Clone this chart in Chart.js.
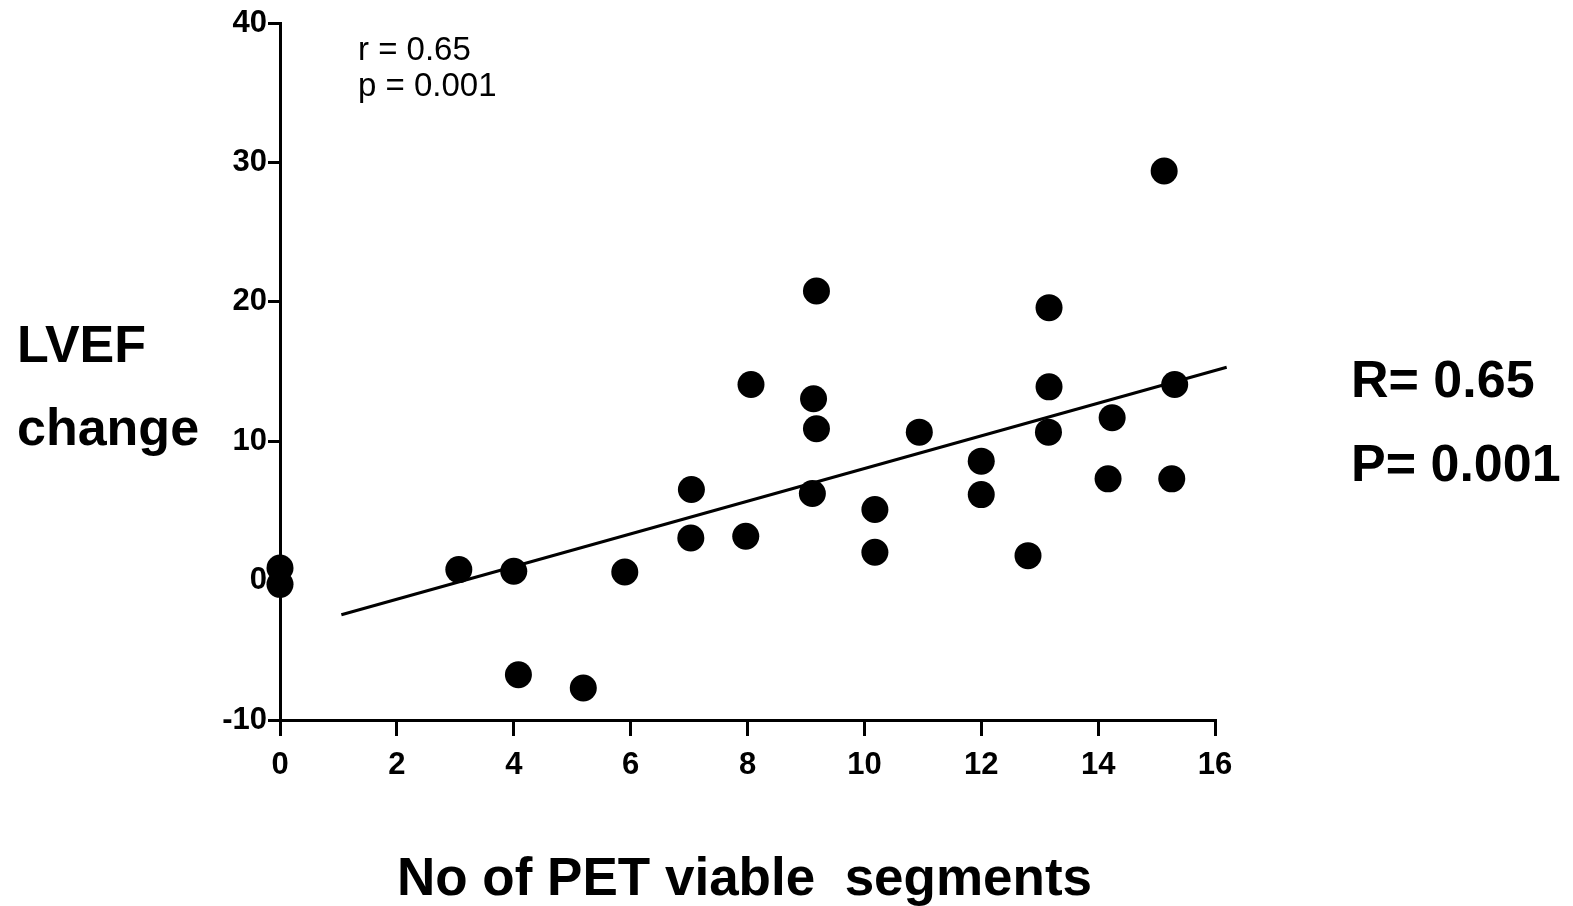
<!DOCTYPE html>
<html>
<head>
<meta charset="utf-8">
<script src="https://cdn.jsdelivr.net/npm/chart.js@4.4.1/dist/chart.umd.min.js"></script>
<style>
  html, body { margin: 0; padding: 0; background: #fff; }
  #wrap { width: 1573px; height: 906px; position: relative; }
</style>
</head>
<body>
<div id="wrap"><canvas id="c"></canvas></div>
<script>
// Number of PET viable segments (x) and LVEF change (y) for each patient
const viableSegments = [0, 0, 3.06, 4.0, 4.08, 5.19, 5.9, 7.04, 7.03, 7.97, 8.06, 9.18, 9.13, 9.18, 9.11, 10.18, 10.18, 10.94, 12.0, 12.0, 12.8, 13.16, 13.16, 13.15, 14.24, 14.17, 15.13, 15.31, 15.26];
const lvefChange     = [0.9, -0.27, 0.79, 0.67, -6.75, -7.7, 0.62, 6.53, 3.06, 3.18, 14.07, 20.77, 13.04, 10.89, 6.25, 5.1, 2.03, 10.65, 8.57, 6.17, 1.79, 19.58, 13.9, 10.65, 11.68, 7.3, 29.38, 14.07, 7.3];
// Regression line end points
const fitX = [1.05, 16.2];
const fitY = [-2.45, 15.3];
// Axis ranges / tick steps
const xRange = [0, 16];
const yRange = [-10, 40];
const xStep = 2;
const yStep = 10;
// Texts
const statsSmall = ["r = 0.65", "p = 0.001"];
const statsBig = ["R= 0.65", "P= 0.001"];
const yTitle = ["LVEF", "change"];
const xTitle = "No of PET viable  segments";

const pts = viableSegments.map((x, i) => ({ x: x, y: lvefChange[i] }));
const fit = fitX.map((x, i) => ({ x: x, y: fitY[i] }));

const textPlugin = {
  id: 'texts',
  afterDraw(chart) {
    const ctx = chart.ctx;
    ctx.save();
    ctx.fillStyle = '#000';
    ctx.textAlign = 'left';
    ctx.textBaseline = 'alphabetic';
    ctx.font = '33px "Liberation Sans", Arial, sans-serif';
    ctx.fillText(statsSmall[0], 358, 60);
    ctx.fillText(statsSmall[1], 358, 96);
    ctx.font = 'bold 52px "Liberation Sans", Arial, sans-serif';
    ctx.fillText(yTitle[0], 17, 362);
    ctx.fillText(yTitle[1], 17, 445);
    ctx.fillText(statsBig[0], 1351, 397);
    ctx.fillText(statsBig[1], 1351, 481);
    ctx.font = 'bold 53px "Liberation Sans", Arial, sans-serif';
    ctx.fillText(xTitle, 397, 895);
    ctx.restore();
  }
};

const tickFont = { family: '"Liberation Sans", Arial, sans-serif', size: 31, weight: 'bold' };

new Chart(document.getElementById('c'), {
  type: 'scatter',
  data: {
    datasets: [
      {
        type: 'line',
        data: fit,
        borderColor: '#000',
        borderWidth: 3,
        pointRadius: 0,
        fill: false,
        clip: false,
        order: 2
      },
      {
        data: pts,
        backgroundColor: '#000',
        borderColor: '#000',
        pointRadius: 13.5,
        pointBorderWidth: 0,
        clip: false,
        order: 1
      }
    ]
  },
  options: {
    responsive: true,
    maintainAspectRatio: false,
    animation: false,
    devicePixelRatio: 1,
    layout: { padding: { top: 23, right: 358, left: 0, bottom: 0 } },
    plugins: { legend: { display: false }, tooltip: { enabled: false } },
    scales: {
      x: {
        type: 'linear',
        min: xRange[0], max: xRange[1],
        ticks: { stepSize: xStep, color: '#000', font: tickFont, padding: 11 },
        grid: { drawOnChartArea: false, drawTicks: true, tickLength: 16, color: '#000', lineWidth: 3 },
        border: { display: true, color: '#000', width: 3 },
        afterFit(s) { s.height = 186; }
      },
      y: {
        type: 'linear',
        min: yRange[0], max: yRange[1],
        ticks: { stepSize: yStep, color: '#000', font: tickFont, padding: 1 },
        grid: { drawOnChartArea: false, drawTicks: true, tickLength: 12, color: '#000', lineWidth: 3 },
        border: { display: true, color: '#000', width: 3 },
        afterFit(s) { s.width = 280; }
      }
    }
  },
  plugins: [textPlugin]
});
</script>
</body>
</html>
